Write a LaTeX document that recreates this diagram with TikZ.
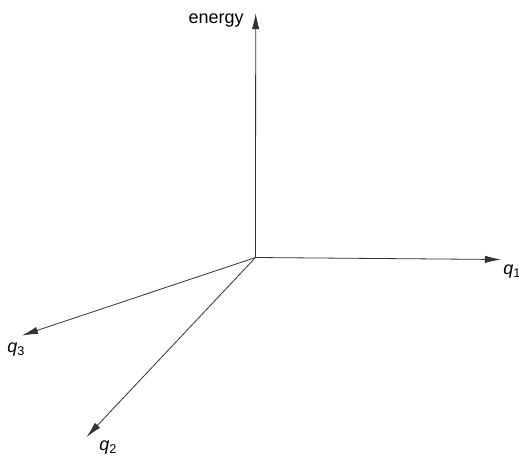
\documentclass[tikz,border=0pt]{standalone}
\usepackage{fontspec}
\setmainfont{Liberation Sans}
\usetikzlibrary{arrows.meta, positioning}

\newcommand{\axsub}[1]{\raisebox{-0.35ex}{\fontsize{9.5}{10}\selectfont #1}}

\begin{document}
\begin{tikzpicture}[x=0.75pt, y=-0.75pt,
        axis/.style={draw=black!80, line width=0.6pt, -{Latex[length=12pt, width=5.5pt]}},
        axlabel/.style={inner sep=0pt, anchor=base west, font=\fontsize{13.5}{16}\selectfont}]
        \useasboundingbox (0,0) rectangle (519,455);
        \coordinate (O) at (255.5,257.5);
        \coordinate (E) at (255.7,13);
        \coordinate (Q1) at (501,259.5);
        \coordinate (Q2) at (86.5,437);
        \coordinate (Q3) at (22,335.5);
        \node (elbl) [axlabel, anchor=base east] at (244,23) {energy};
        \node (q1lbl) [axlabel] at (503,274) {\textit{q}\axsub{1}};
        \node (q2lbl) [axlabel] at (99,450) {\textit{q}\axsub{2}};
        \node (q3lbl) [axlabel] at (7,352) {\textit{q}\axsub{3}};
        \path [every edge/.style={axis}]
            (O) edge (E)
            (O) edge (Q1)
            (O) edge (Q2)
            (O) edge (Q3)
            ;
\end{tikzpicture}
\end{document}
